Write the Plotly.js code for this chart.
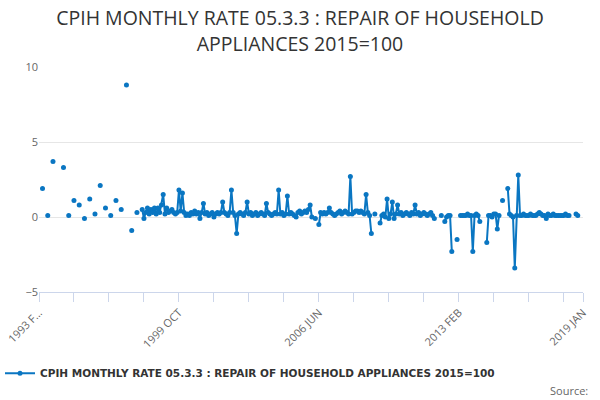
<!DOCTYPE html>
<html>
<head>
<meta charset="utf-8">
<script src="https://cdn.plot.ly/plotly-3.0.1.min.js"></script>
<style>
  html, body { margin: 0; padding: 0; background: #fff; }
  #chart { width: 600px; height: 400px; }
</style>
</head>
<body>
<div id="chart"></div>
<script>
/* Données du graphique */
const monthNames = ['JAN', 'FEB', 'MAR', 'APR', 'MAY', 'JUN', 'JUL', 'AUG', 'SEP', 'OCT', 'NOV', 'DEC'];
const firstYear = 1993, firstMonth = 1;   // 1993 FEB
const lastYear = 2019, lastMonth = 0;     // 2019 JAN

const seriesName = 'CPIH MONTHLY RATE 05.3.3 : REPAIR OF HOUSEHOLD APPLIANCES 2015=100';

// one row per year (1993 starts in FEB)
const values = [
  null, null, 1.9, null, null, 0.1, null, null, 3.7, null, null,
  null, null, null, 3.3, null, null, 0.1, null, null, 1.1, null, null,
  0.8, null, null, -0.1, null, null, 1.2, null, null, 0.2, null, null,
  2.1, null, null, 0.6, null, null, 0.1, null, null, 1.1, null, null,
  0.5, null, null, 8.8, null, null, -0.9, null, null, 0.3, null, null,
  0.5, -0.1, 0.3, 0.6, 0.2, 0.5, 0.3, 0.6, 0.2, 0.6, 0.3, 0.8,
  1.5, 0.2, 0.6, 0.3, 0.4, 0.5, 0.3, 0.2, 0.3, 1.8, 0.4, 1.6,
  0.3, 0.1, 0.2, 0.1, 0.3, 0.2, 0.4, 0.2, 0.3, -0.1, 0.3, 0.9,
  0.2, 0.3, 0.1, 0.2, 0.3, 0.0, 0.2, 0.3, 0.2, 0.3, 1.0, 0.3,
  0.2, 0.1, 0.3, 1.8, 0.3, 0.1, -1.1, 0.2, 0.3, 0.2, 0.1, 0.3,
  1.0, 0.2, 0.3, 0.1, 0.2, 0.3, 0.1, 0.2, 0.3, 0.2, 0.1, 0.9,
  0.3, 0.2, 0.1, 0.2, 0.3, 0.2, 1.8, 0.2, 0.3, 0.1, 0.2, 1.4,
  0.2, 0.3, 0.2, 0.1, 0.0, 0.3, 0.4, 0.2, 0.3, 0.4, 0.3, 0.5,
  0.8, 0.0, null, -0.1, null, -0.5, 0.3, 0.2, 0.3, 0.2, 0.3, 0.6,
  0.3, 0.2, 0.1, 0.2, 0.3, 0.4, 0.2, 0.3, 0.4, 0.3, 0.2, 2.7,
  0.2, 0.3, 0.4, 0.4, 0.3, 0.4, 0.3, 0.2, 1.5, 0.3, 0.1, -1.1,
  null, 0.2, null, null, -0.4, 0.1, 0.2, 0.0, 1.2, -0.1, 0.2, 1.0,
  -0.1, 0.2, 0.8, 0.2, 0.3, 0.1, 0.2, 0.3, 0.2, 0.1, 0.3, 0.2,
  0.8, 0.2, 0.3, 0.1, 0.2, 0.3, 0.2, 0.1, 0.2, 0.3, 0.1, -0.1,
  null, null, null, 0.1, null, -0.3, 0.0, 0.1, 0.1, -2.3, null, null,
  -1.5, null, 0.1, 0.1, 0.1, 0.1, 0.2, 0.1, 0.1, -2.3, 0.1, 0.2,
  0.1, -0.3, null, null, null, -1.7, 0.1, 0.1, 0.0, 0.2, 0.2, -0.8,
  0.1, null, 1.1, null, null, 1.9, 0.2, 0.1, 0.0, -3.4, 0.1, 2.8,
  0.1, 0.1, 0.2, 0.1, 0.1, 0.1, 0.2, 0.1, 0.1, 0.1, 0.2, 0.3,
  0.2, 0.1, 0.1, -0.1, 0.2, 0.1, 0.1, 0.2, 0.1, 0.1, 0.1, 0.1,
  0.1, 0.1, 0.2, 0.1, 0.1, null, null, null, 0.2, 0.1, null, null,
  null
];

// labelled ticks (others are unlabelled, every 20 months)
const labelledTicks = ['1993 FEB', '1999 OCT', '2006 JUN', '2013 FEB', '2019 JAN'];
const tickText = { '1993 FEB': '1993 F…' };

const yTicks = [-5, 0, 5, 10];

/* Catégories mensuelles */
const categories = [];
for (let y = firstYear; y <= lastYear; y++) {
    for (let m = 0; m < 12; m++) {
        if (y === firstYear && m < firstMonth) continue;
        if (y === lastYear && m > lastMonth) break;
        categories.push(y + ' ' + monthNames[m]);
    }
}

const tickvals = [], ticktext = [];
categories.forEach(function (c, i) {
    if (i % 20 === 0 || i === categories.length - 1) {
        tickvals.push(c);
        ticktext.push(labelledTicks.indexOf(c) >= 0 ? (tickText[c] || c) : '');
    }
});

const blue = '#0a76c2';

Plotly.newPlot('chart', [{
    type: 'scatter',
    mode: 'lines+markers',
    x: categories,
    y: values,
    name: '<b>' + seriesName + '</b>',
    connectgaps: false,
    line: { color: blue, width: 2 },
    marker: { color: blue, size: 5 }
}], {
    width: 600,
    height: 400,
    margin: { l: 39, r: 17, t: 67, b: 108 },
    paper_bgcolor: '#fff',
    plot_bgcolor: '#fff',
    font: { family: 'Open Sans, sans-serif', color: '#666' },
    title: {
        text: 'CPIH MONTHLY RATE 05.3.3 : REPAIR OF HOUSEHOLD<br>APPLIANCES 2015=100',
        font: { size: 19.5, color: '#333', family: 'Open Sans, sans-serif' },
        x: 0.5, xanchor: 'center',
        yref: 'container', y: 0.937, yanchor: 'middle'
    },
    xaxis: {
        type: 'category',
        range: [0, categories.length - 1],
        tickmode: 'array',
        tickvals: tickvals,
        ticktext: ticktext,
        tickangle: -45,
        ticks: 'outside',
        ticklen: 9,
        tickcolor: '#ccd6eb',
        showline: true,
        linecolor: '#ccd6eb',
        showgrid: false,
        zeroline: false,
        tickfont: { size: 11, color: '#666' }
    },
    yaxis: {
        range: [-5, 10],
        tickmode: 'array',
        tickvals: yTicks,
        showgrid: true,
        gridcolor: '#e6e6e6',
        zeroline: false,
        ticks: '',
        tickfont: { size: 11, color: '#666' }
    },
    showlegend: true,
    legend: {
        orientation: 'h',
        x: 0, xanchor: 'left', xref: 'container',
        yref: 'container', y: 0.067, yanchor: 'middle',
        itemwidth: 30,
        font: { family: 'DejaVu Sans, sans-serif', size: 10.5, color: '#333' }
    },
    annotations: [{
        text: 'Source:',
        xref: 'paper', yref: 'paper',
        x: 1.013, y: -0.436,
        xanchor: 'right', yanchor: 'middle',
        showarrow: false,
        font: { size: 11, color: '#666' }
    }]
}, { displayModeBar: false, staticPlot: true });
</script>
</body>
</html>
